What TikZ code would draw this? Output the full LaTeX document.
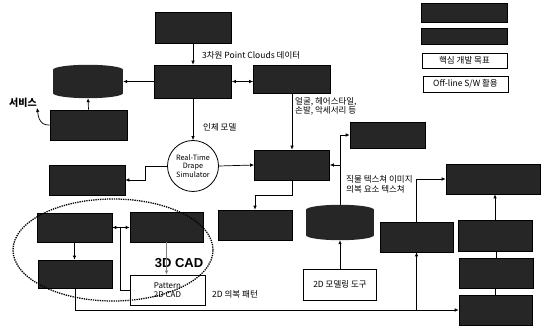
\documentclass[tikz,border=0pt]{standalone}
\usepackage{fontspec}
\newfontfamily\kr{Noto Sans CJK KR}
\newfontfamily\lat{Liberation Sans}
\usetikzlibrary{arrows.meta,calc}
\begin{document}
\begin{tikzpicture}[x=1pt,y=-1pt,
  dbox/.style={draw=black,fill=black!85,inner sep=0pt,line width=0.6pt},
  wbox/.style={draw=black,fill=white,inner sep=0pt,line width=0.8pt,align=center,font=\kr\fontsize{8.5}{10}\selectfont},
  cylbox/.style={inner sep=0pt},
  lbl/.style={inner sep=0pt,font=\kr\fontsize{8.5}{9.5}\selectfont},
  arr/.style={line width=0.7pt,-{Latex[length=4pt,width=3.5pt]}},
  darr/.style={line width=0.7pt,{Latex[length=4pt,width=3.5pt]}-{Latex[length=4pt,width=3.5pt]}},
  con/.style={line width=0.7pt}]
\useasboundingbox (0,0) rectangle (548,328);

% legend
\node[dbox,minimum width=86pt,minimum height=19pt] (L1) at (464,12.5) {};
\node[dbox,minimum width=86pt,minimum height=16pt] (L2) at (464,36) {};
\node[wbox,minimum width=85pt,minimum height=15pt] (L3) at (464.5,60.5) {핵심 개발 목표};
\node[wbox,minimum width=85pt,minimum height=16pt] (L4) at (465.5,84) {Off-line S/W 활용};

% boxes
\node[dbox,minimum width=76pt,minimum height=31pt] (top) at (193,27.5) {};
\node[dbox,minimum width=77pt,minimum height=33pt] (scan) at (193,81.5) {};
\node[dbox,minimum width=77pt,minimum height=28pt] (rbox) at (292,79) {};
\node[cylbox,minimum width=70pt,minimum height=33pt] (cyl1) at (88,81.5) {};
\node[dbox,minimum width=77pt,minimum height=30pt] (svc) at (88.5,125) {};
\node[dbox,minimum width=75pt,minimum height=30pt] (b7) at (292,165) {};
\node[dbox,minimum width=76pt,minimum height=30pt] (b8) at (87,180) {};
\node[dbox,minimum width=75pt,minimum height=26pt] (b9) at (387.5,135) {};
\node[dbox,minimum width=74pt,minimum height=30pt] (b10) at (255,225) {};
\node[cylbox,minimum width=68pt,minimum height=35pt] (cyl2) at (340,222.5) {};
\node[wbox,minimum width=73pt,minimum height=31pt] (b12) at (340,284.5) {2D 모델링 도구};
\node[dbox,minimum width=73pt,minimum height=30pt] (b13) at (416.5,237) {};
\node[dbox,minimum width=94pt,minimum height=30pt] (b14) at (493,179) {};
\node[dbox,minimum width=74pt,minimum height=31pt] (b15) at (495,235.5) {};
\node[dbox,minimum width=74pt,minimum height=30pt] (b16) at (496,273) {};
\node[dbox,minimum width=73pt,minimum height=30pt] (b17) at (495.5,310) {};
\node[dbox,minimum width=75pt,minimum height=29pt] (b19) at (74.5,227.5) {};
\node[dbox,minimum width=73pt,minimum height=30pt] (b20) at (166.5,227) {};
\node[dbox,minimum width=74pt,minimum height=28pt] (b21) at (75,274) {};
\node[wbox,minimum width=75pt,minimum height=30pt,font=\kr\fontsize{8}{9.5}\selectfont] (pat) at (167.5,290) {Pattern\\2D CAD};

% cylinders drawn around their nodes
\foreach \c/\rx in {cyl1/35pt,cyl2/34pt}{
  \fill[black!85] ($(\c.north west)+(0,5)$) rectangle ($(\c.south east)+(0,-5)$);
  \fill[black!85] ($(\c.north)+(0,5)$) ellipse [x radius=\rx, y radius=5pt];
  \fill[black!85] ($(\c.south)+(0,-5)$) ellipse [x radius=\rx, y radius=5pt];
}

% simulator
\node[draw,circle,line width=0.8pt,fill=white,minimum size=51pt,inner sep=0pt,align=center,
      font=\kr\fontsize{7.3}{8.3}\selectfont] (sim) at (193,166) {Real-Time\\Drape\\Simulator};

% labels
\node[lbl,anchor=west] (lpc) at (202,55) {3차원 Point Clouds 데이터};
\node[lbl,anchor=west] (lhm) at (203,127) {인체 모델};
\node[lbl,anchor=north west,align=left] (lface) at (295,97) {얼굴, 헤어스타일,\\손발, 악세서리 등};
\node[lbl,anchor=west,align=left] (ltex) at (346,184.5) {직물 텍스쳐 이미지\\의복 요소 텍스쳐};
\node[lbl,anchor=west] (l2d) at (212,294) {2D 의복 패턴};
\node[inner sep=0pt,font=\lat\bfseries\fontsize{13}{13}\selectfont] (l3d) at (179,263) {3D CAD};
\node[inner sep=0pt,font=\kr\bfseries\fontsize{10}{10}\selectfont] (lsvc) at (23,103) {서비스};

% connectors
\draw[arr] (top.south) -- (scan.north);
\draw[darr] (scan.east) -- (rbox.west |- scan.east);
\draw[arr] (scan.west) -- (cyl1.east);
\draw[arr] (svc.north) -- (cyl1.south);
\draw[arr] (svc.west) .. controls (38,126) and (38,113) .. (lsvc.south east);
\draw[arr] (scan.south) -- (sim.north);
\draw[arr] (rbox.south) -- (b7.north);
\draw[arr] (sim.east) -- (b7.west);
\draw[arr] (sim.west) -- ++(-22,0) |- (b8.east);
\draw[arr] (cyl2.north) |- (b9.west);
\draw[arr] (cyl2.north |- b7.east) -- (b7.east);
\draw[arr] (b7.south) -- ++(0,15) -| (b10.north);
\draw[arr] (b12.north) -- (cyl2.south);
\draw[darr] (b19.east) -- (b20.west |- b19.east);
\coordinate (jn) at (120,227.5);
\draw[con] (jn) |- (pat.west);
\draw[arr,gray] (b20.south) -- (b20.south |- pat.north);
\draw[arr] (b19.south) -- (b19.south |- b21.north);
\draw[arr] (b21.south) |- (b17.west);
\draw[arr] (b13.south |- b17.west) -- (b13.south);
\draw[arr] (b13.north) |- (b14.west);
\draw[arr] (b15.north) -- (b15.north |- b14.south);
\draw[con] (b16.north) -- (b16.north |- b15.south);
\draw[con] (b17.north) -- (b17.north |- b16.south);

% dotted group
\draw[densely dotted,line width=1.3pt] (113,250) ellipse [x radius=100pt, y radius=51pt];
\end{tikzpicture}
\end{document}
